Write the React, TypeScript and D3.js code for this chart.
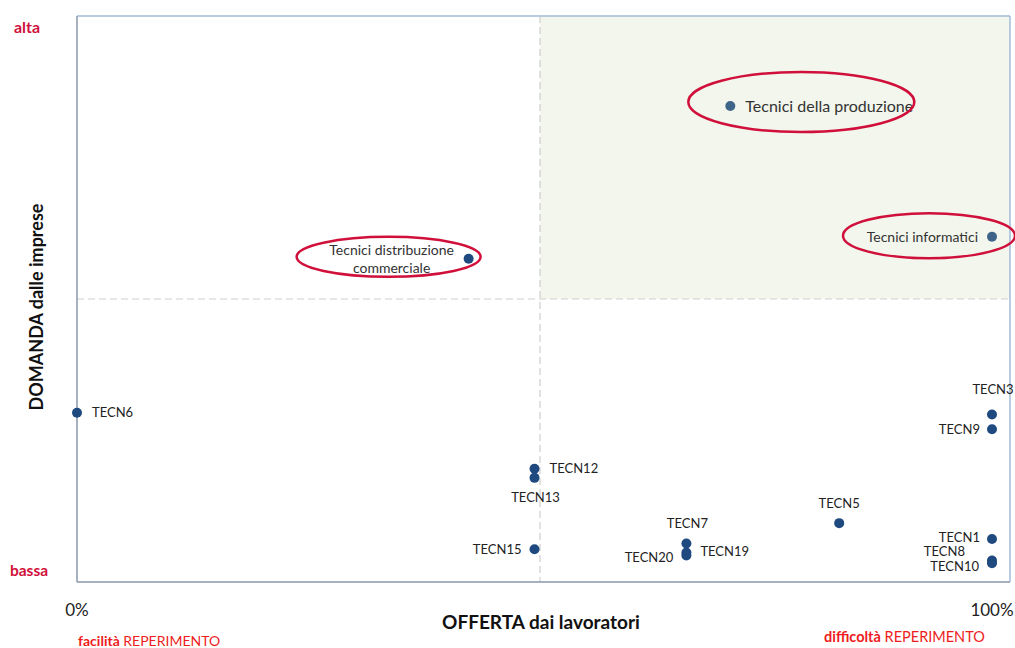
import React from "react";
import * as d3 from "d3";

// ---- data ----
const names = ["TECN6", "TECN12", "TECN13", "TECN15", "TECN7", "TECN19", "TECN20", "TECN5", "TECN3", "TECN9", "TECN1", "TECN8", "TECN10"];
const offerta = [0.0, 0.5, 0.5, 0.5, 0.666, 0.666, 0.666, 0.833, 1.0, 1.0, 1.0, 1.0, 1.0];
const domanda = [29.9, 20.0, 18.4, 5.8, 6.8, 5.2, 4.7, 10.4, 29.6, 27.0, 7.6, 3.8, 3.3];

const highlightNames = ["Tecnici della produzione", "Tecnici informatici", "Tecnici distribuzione commerciale"];
const highlightOfferta = [0.714, 1.0, 0.428];
const highlightDomanda = [84.1, 61.0, 57.1];

const xTickLabels = ["0%", "100%"];
const xTickValues = [0, 1];
const yLevelLabels = ["alta", "bassa"];
const xMid = 0.506;
const yMid = 50;

// ---- layout (label placement) ----
const labelLayout: Record<string, { dx: number; dy: number; anchor: string }> = {
  TECN6: { dx: 15, dy: 0, anchor: "start" },
  TECN12: { dx: 15, dy: 0, anchor: "start" },
  TECN13: { dx: 1, dy: 20, anchor: "middle" },
  TECN15: { dx: -13, dy: 0, anchor: "end" },
  TECN7: { dx: 1, dy: -20, anchor: "middle" },
  TECN19: { dx: 14, dy: -1, anchor: "start" },
  TECN20: { dx: -13, dy: 2, anchor: "end" },
  TECN5: { dx: 0, dy: -20, anchor: "middle" },
  TECN3: { dx: 1, dy: -25, anchor: "middle" },
  TECN9: { dx: -12, dy: 0, anchor: "end" },
  TECN1: { dx: -12, dy: -2, anchor: "end" },
  TECN8: { dx: -27, dy: -9.5, anchor: "end" },
  TECN10: { dx: -13, dy: 2.7, anchor: "end" },
};

const W = 1015;
const H = 648;
const L = 77, R = 1010, T = 16, B = 582;
const FONT = "Lato, 'Open Sans', sans-serif";
const RED = "#d0103a";

export default function App() {
  const x = d3.scaleLinear().domain([0, 1]).range([L, 992]);
  const y = d3.scaleLinear().domain([0, 100]).range([B, T]);
  const xm = x(xMid);
  const ym = y(yMid);

  const hp = highlightNames.map((n, i) => ({ n, cx: x(highlightOfferta[i]), cy: y(highlightDomanda[i]) }));

  return (
    <div style={{ position: "absolute", left: 0, top: 0 }}>
      <svg width={W} height={H} style={{ display: "block", fontFamily: FONT }}>
        <rect x={0} y={0} width={W} height={H} fill="#fff" />
        {/* shaded quadrant */}
        <rect x={xm} y={T} width={R - xm} height={ym - T} fill="#f2f6ec" />
        {/* dashed quadrant lines */}
        <line x1={xm} x2={xm} y1={T} y2={B} stroke="#cfcfcf" strokeWidth={1.2} strokeDasharray="7,4" />
        <line x1={L} x2={R} y1={ym} y2={ym} stroke="#cfcfcf" strokeWidth={1.2} strokeDasharray="7,4" />
        {/* frame */}
        <line x1={L} x2={R} y1={T} y2={T} stroke="#a3bbd9" strokeWidth={1.5} />
        <line x1={R} x2={R} y1={T} y2={B} stroke="#a3bbd9" strokeWidth={1.5} />
        <line x1={L} x2={L} y1={T} y2={B} stroke="#8a96a8" strokeWidth={1.5} />
        <line x1={L} x2={R} y1={B} y2={B} stroke="#8a96a8" strokeWidth={1.5} />

        {/* TECN points */}
        {names.map((n, i) => {
          const cx = x(offerta[i]);
          const cy = y(domanda[i]);
          const lay = labelLayout[n];
          return (
            <g key={n}>
              <circle cx={cx} cy={cy} r={5} fill="#1f4a80" />
              <text x={cx + lay.dx} y={cy + lay.dy} dy="0.35em" textAnchor={lay.anchor} fontSize={13} fill="#222">{n}</text>
            </g>
          );
        })}

        {/* highlighted points */}
        <circle cx={hp[0].cx} cy={hp[0].cy} r={5} fill="#3e6489" />
        <text x={hp[0].cx + 15} y={hp[0].cy} dy="0.35em" fontSize={16} fill="#333">{hp[0].n}</text>
        <ellipse cx={hp[0].cx + 71} cy={hp[0].cy - 4} rx={113} ry={30} fill="none" stroke={RED} strokeWidth={2.5} />

        <circle cx={hp[1].cx} cy={hp[1].cy} r={5} fill="#3e6489" />
        <text x={hp[1].cx - 14} y={hp[1].cy} dy="0.35em" textAnchor="end" fontSize={14} fill="#333">{hp[1].n}</text>
        <ellipse cx={hp[1].cx - 63} cy={hp[1].cy - 1} rx={86} ry={22.5} fill="none" stroke={RED} strokeWidth={2.5} />

        <circle cx={hp[2].cx} cy={hp[2].cy} r={5} fill="#1f4a80" />
        <text x={hp[2].cx - 77} y={hp[2].cy - 9} dy="0.35em" textAnchor="middle" fontSize={14} fill="#333">Tecnici distribuzione</text>
        <text x={hp[2].cx - 77} y={hp[2].cy + 9} dy="0.35em" textAnchor="middle" fontSize={14} fill="#333">commerciale</text>
        <ellipse cx={hp[2].cx - 80} cy={hp[2].cy - 2} rx={92} ry={20} fill="none" stroke={RED} strokeWidth={2.5} />

        {/* x tick labels */}
        {xTickValues.map((v, i) => (
          <text key={v} x={x(v)} y={610} dy="0.35em" textAnchor="middle" fontSize={17} fill="#222">{xTickLabels[i]}</text>
        ))}

        {/* y level labels */}
        <text x={27} y={27} dy="0.35em" textAnchor="middle" fontSize={16} fontWeight="bold" fill={RED}>{yLevelLabels[0]}</text>
        <text x={29} y={571} dy="0.35em" textAnchor="middle" fontSize={15.5} fontWeight="bold" fill={RED}>{yLevelLabels[1]}</text>

        {/* axis titles */}
        <text x={541} y={622} dy="0.35em" textAnchor="middle" fontSize={19} fontWeight="bold" fill="#111">OFFERTA dai lavoratori</text>
        <text transform={`translate(37,${(T + B) / 2 + 8}) rotate(-90)`} dy="0.35em" textAnchor="middle" fontSize={18} fontWeight="bold" fill="#111">DOMANDA dalle imprese</text>

        {/* bottom notes */}
        <text x={78} y={641} dy="0.35em" fontSize={14} fill="#ee1c1c">
          <tspan fontWeight="bold">facilità</tspan>
          <tspan> REPERIMENTO</tspan>
        </text>
        <text x={824} y={637} dy="0.35em" fontSize={14.5} fill="#ee1c1c">
          <tspan fontWeight="bold">difficoltà</tspan>
          <tspan>  REPERIMENTO</tspan>
        </text>
      </svg>
    </div>
  );
}
